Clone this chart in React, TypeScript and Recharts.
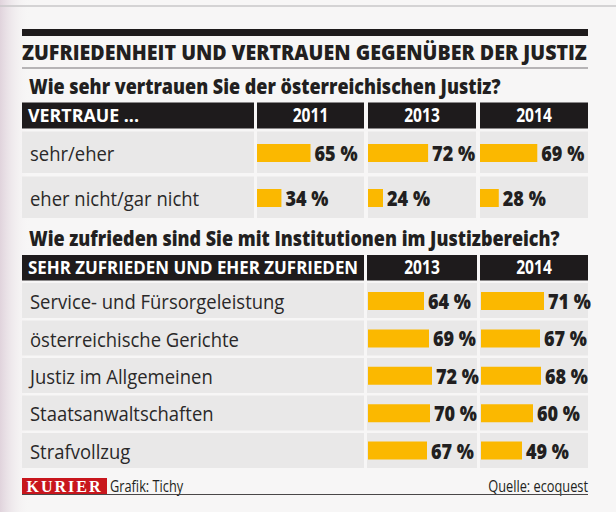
import React from "react";
import { BarChart, Bar, XAxis, YAxis, LabelList } from "recharts";

// --- data ---
const trustRows = ["sehr/eher", "eher nicht/gar nicht"];
const trustYears = ["2011", "2013", "2014"];
const trust2011 = [65, 34];
const trust2013 = [72, 24];
const trust2014 = [69, 28];

const satisfactionRows = [
  "Service- und Fürsorgeleistung",
  "österreichische Gerichte",
  "Justiz im Allgemeinen",
  "Staatsanwaltschaften",
  "Strafvollzug",
];
const satisfactionYears = ["2013", "2014"];
const satisfaction2013 = [64, 69, 72, 70, 67];
const satisfaction2014 = [71, 67, 68, 60, 49];

// --- look ---
const FONT = "'Open Sans', 'Noto Sans', sans-serif";
const BAR = "#fbb800";
const INK = "#221f20";
const CELL = "#e9e8e8";
const HEAD = "#1e1b1c";

// horizontally squeezed text, the original uses a condensed face
const Squeezed = ({ x, y, sx, children, ...rest }: any) => (
  <text transform={`translate(${x} ${y}) scale(${sx} 1)`} fontFamily={FONT} {...rest}>
    {children}
  </text>
);

const RowTick = (props: any) => {
  const { y, payload } = props;
  return (
    <Squeezed x={8} y={y + 8.5} sx={0.9} fill="#2a2829" fontSize={20.5}>
      {payload.value}
    </Squeezed>
  );
};

const ValueLabel = (props: any) => {
  const { x, y, width, height, value } = props;
  return (
    <Squeezed x={x + width + 4} y={y + height / 2 + 8} sx={0.86} fill={INK} fontWeight={800} fontSize={21}>
      {value} %
    </Squeezed>
  );
};

interface ColumnProps {
  rows: string[];
  values: number[];
  left: number;
  top: number;
  width: number;
  height: number;
  labelWidth: number;
  domain: [number, number];
}

const YearColumn = ({ rows, values, left, top, width, height, labelWidth, domain }: ColumnProps) => {
  const data = rows.map((row, i) => ({ row, value: values[i] }));
  return (
    <div style={{ position: "absolute", left: left - labelWidth, top }}>
      <BarChart
        width={width + labelWidth}
        height={height}
        data={data}
        layout="vertical"
        margin={{ top: 0, right: 0, bottom: 0, left: 0 }}
        barCategoryGap={0}
      >
        <XAxis type="number" domain={domain} allowDataOverflow hide />
        <YAxis
          type="category"
          dataKey="row"
          hide={labelWidth === 0}
          width={labelWidth}
          axisLine={false}
          tickLine={false}
          interval={0}
          tick={<RowTick />}
        />
        <Bar dataKey="value" fill={BAR} barSize={18} isAnimationActive={false}>
          <LabelList dataKey="value" content={<ValueLabel />} />
        </Bar>
      </BarChart>
    </div>
  );
};

// column cells (x, width) per section
const trustCols = [
  { x: 257, w: 107 },
  { x: 368, w: 108 },
  { x: 480, w: 108 },
];
const satCols = [
  { x: 367, w: 110 },
  { x: 480, w: 108 },
];

export default function App() {
  const trustValues = [trust2011, trust2013, trust2014];
  const satValues = [satisfaction2013, satisfaction2014];

  return (
    <div style={{ position: "absolute", left: 0, top: 0, width: 616, height: 512, overflow: "hidden", background: "#f7f6f6" }}>
      <style>{".recharts-surface{overflow:visible}"}</style>
      <svg width={616} height={512} style={{ position: "absolute", left: 0, top: 0 }}>
        <defs>
          <linearGradient id="edge" x1="0" x2="1" y1="0" y2="0">
            <stop offset="0" stopColor="#e0d3dc" />
            <stop offset="1" stopColor="#f7f6f6" stopOpacity={0} />
          </linearGradient>
        </defs>
        <rect x={0} y={0} width={30} height={512} fill="url(#edge)" />
        <line x1={0} x2={616} y1={6} y2={6} stroke="#c9c7c8" strokeWidth={1.5} />

        {/* heading */}
        <rect x={22} y={29} width={566} height={7} fill={HEAD} />
        <Squeezed x={22} y={60} sx={0.935} fill={INK} fontWeight={800} fontSize={21}>
          ZUFRIEDENHEIT UND VERTRAUEN GEGENÜBER DER JUSTIZ
        </Squeezed>
        <line x1={22} x2={588} y1={68} y2={68} stroke="#a09ea0" strokeWidth={1.5} />
        <Squeezed x={29} y={94} sx={0.835} fill={INK} fontWeight={800} fontSize={21.5}>
          Wie sehr vertrauen Sie der österreichischen Justiz?
        </Squeezed>

        {/* trust table */}
        <rect x={22} y={102.5} width={232} height={26} fill={HEAD} />
        <Squeezed x={28} y={122} sx={0.99} fill="#fff" fontWeight="bold" fontSize={18}>
          VERTRAUE ...
        </Squeezed>
        {trustCols.map((c, i) => (
          <g key={i}>
            <rect x={c.x} y={102.5} width={c.w} height={26} fill={HEAD} />
            <Squeezed x={c.x + c.w / 2} y={122} sx={0.82} textAnchor="middle" fill="#fff" fontWeight="bold" fontSize={19}>
              {trustYears[i]}
            </Squeezed>
          </g>
        ))}
        {trustRows.map((r, j) => (
          <g key={r}>
            <rect x={22} y={131.5 + j * 45} width={232} height={41.5} fill={CELL} />
            {trustCols.map((c, i) => (
              <rect key={i} x={c.x} y={131.5 + j * 45} width={c.w} height={41.5} fill={CELL} />
            ))}
          </g>
        ))}

        <Squeezed x={29} y={245.5} sx={0.835} fill={INK} fontWeight={800} fontSize={21.5}>
          Wie zufrieden sind Sie mit Institutionen im Justizbereich?
        </Squeezed>

        {/* satisfaction table */}
        <rect x={22} y={255} width={342} height={25.5} fill={HEAD} />
        <Squeezed x={28} y={273.5} sx={0.94} fill="#fff" fontWeight="bold" fontSize={18}>
          SEHR ZUFRIEDEN UND EHER ZUFRIEDEN
        </Squeezed>
        {satCols.map((c, i) => (
          <g key={i}>
            <rect x={c.x} y={255} width={c.w} height={25.5} fill={HEAD} />
            <Squeezed x={c.x + c.w / 2} y={273.5} sx={0.82} textAnchor="middle" fill="#fff" fontWeight="bold" fontSize={19}>
              {satisfactionYears[i]}
            </Squeezed>
          </g>
        ))}
        {satisfactionRows.map((r, j) => (
          <g key={r}>
            <rect x={22} y={283 + j * 37.5} width={342} height={35} fill={CELL} />
            {satCols.map((c, i) => (
              <rect key={i} x={c.x} y={283 + j * 37.5} width={c.w} height={35} fill={CELL} />
            ))}
          </g>
        ))}

        {/* footer */}
        <rect x={22} y={478} width={85} height={16} fill="#c8161d" />
        <text x={64.5} y={492} textAnchor="middle" fill="#fff" fontFamily="'Liberation Serif', serif" fontWeight="bold" fontSize={16} letterSpacing={2}>
          KURIER
        </text>
        <Squeezed x={110} y={491.5} sx={0.8} fill={INK} fontSize={16}>
          Grafik: Tichy
        </Squeezed>
        <Squeezed x={588} y={491.5} sx={0.8} textAnchor="end" fill={INK} fontSize={16}>
          Quelle: ecoquest
        </Squeezed>
        <line x1={22} x2={588} y1={494.5} y2={494.5} stroke="#4a4748" strokeWidth={1} />
      </svg>

      {trustCols.map((c, i) => (
        <YearColumn
          key={"t" + i}
          rows={trustRows}
          values={trustValues[i]}
          left={c.x}
          top={130}
          width={108}
          height={90}
          labelWidth={i === 0 ? c.x - 22 : 0}
          domain={[8, 123]}
        />
      ))}
      {satCols.map((c, i) => (
        <YearColumn
          key={"s" + i}
          rows={satisfactionRows}
          values={satValues[i]}
          left={c.x + 1}
          top={282}
          width={110}
          height={187}
          labelWidth={i === 0 ? c.x + 1 - 22 : 0}
          domain={[8, 118]}
        />
      ))}
    </div>
  );
}
